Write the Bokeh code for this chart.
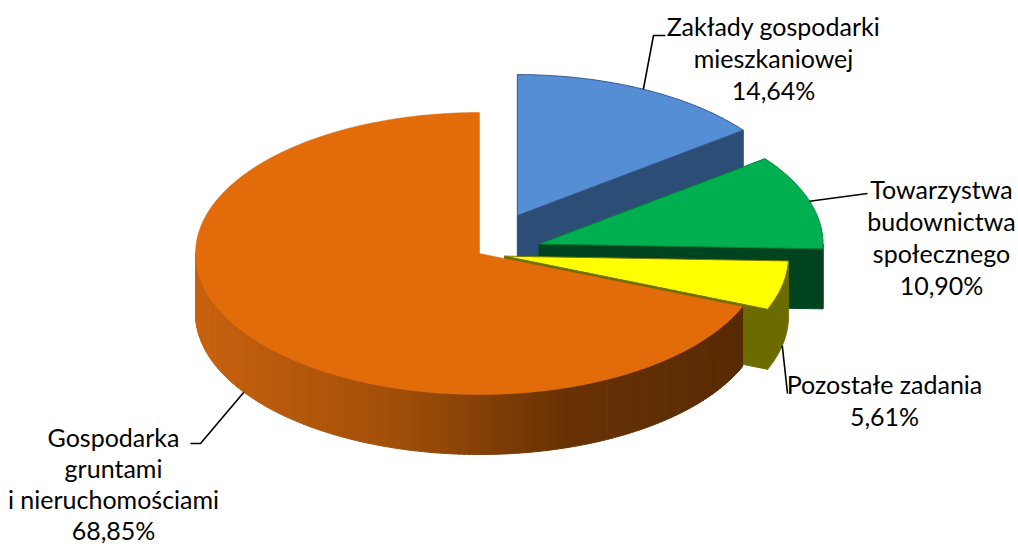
import numpy as np
from bokeh.plotting import figure
from bokeh.models import Range1d
from bokeh.embed import file_html
from bokeh.resources import INLINE
from bokeh.core.properties import value

# ---------------- data ----------------
categories = ["Zakłady gospodarki mieszkaniowej",
              "Towarzystwa budownictwa społecznego",
              "Pozostałe zadania",
              "Gospodarka gruntami i nieruchomościami"]
label_lines = [["Zakłady gospodarki", "mieszkaniowej"],
               ["Towarzystwa", "budownictwa", "społecznego"],
               ["Pozostałe zadania"],
               ["Gospodarka", "gruntami", "i nieruchomościami"]]
shares = [14.64, 10.90, 5.61, 68.85]
top_colors = ["#558ED5", "#00B050", "#FFFF00", "#E36C0A"]
side_colors = ["#2C4D75", "#00441F", "#6B6B00", None]
edge_colors = ["#34598A", "#00803A", "#7A7A00", None]

# ---------------- layout / style ----------------
W, H = 1018, 548
CX, CY = 479, 253          # pie centre on the top face (screen px)
RX, RY = 284, 141          # ellipse radii
DEPTH = 60                 # thickness
explode = [0.30, 0.22, 0.09, 0.0]
label_pos = [(773, 25), (941, 188), (884, 383), (113, 436)]
label_steps = [32, 32, 32, 31]
leader_elbows = [[(653, 35), (665, 35)], [(867, 193)], [(787, 393)], [(200, 443), (190, 443)]]
FONT_SIZE = "25px"
# gradient for the front wall of the big slice (x position -> rgb)
grad_x = [195, 400, 560, 745]
grad_rgb = [(200, 98, 15), (160, 78, 8), (105, 50, 5), (88, 42, 4)]

p = figure(width=W, height=H, output_backend="svg", toolbar_location=None,
           x_range=Range1d(0, W), y_range=Range1d(H, 0),
           min_border=0, outline_line_color=None)
p.axis.visible = False
p.grid.visible = False
p.background_fill_color = "white"
p.border_fill_color = "white"


def pt(cx, cy, th, down=0.0):
    r = np.radians(th)
    return cx + RX * np.sin(r), cy - RY * np.cos(r) + down


def arc(cx, cy, a0, a1, down=0.0, n=None):
    if n is None:
        n = max(int(abs(a1 - a0) / 0.5), 2)
    th = np.linspace(a0, a1, n)
    x, y = pt(cx, cy, th, down)
    return list(x), list(y)


def grad_color(x):
    c = [int(round(np.interp(x, grad_x, [g[k] for g in grad_rgb]))) for k in range(3)]
    return "#%02x%02x%02x" % tuple(c)


cum = np.concatenate([[0], np.cumsum(shares)]) * 3.6
for i in range(len(shares)):
    s, e = cum[i], cum[i + 1]
    m = (s + e) / 2
    ox = CX + explode[i] * RX * np.sin(np.radians(m))
    oy = CY - explode[i] * RY * np.cos(np.radians(m))
    xs, ys, fills, lines = [], [], [], []
    side = side_colors[i]
    # radial cut faces
    for ang, vis in ((e, np.sin(np.radians(e)) > 1e-6), (s, np.sin(np.radians(s)) < -1e-6)):
        if vis and side is not None:
            x1, y1 = pt(ox, oy, ang)
            xs.append([ox, x1, x1, ox])
            ys.append([oy, y1, y1 + DEPTH, oy + DEPTH])
            fills.append(side)
            lines.append(side)
    # outer wall (front half)
    a0, a1 = max(s, 90), min(e, 270)
    if a1 > a0:
        if side is not None:
            tx, ty = arc(ox, oy, a0, a1)
            bx, by = arc(ox, oy, a1, a0, DEPTH)
            xs.append(tx + bx)
            ys.append(ty + by)
            fills.append(side)
            lines.append(side)
        else:
            steps = np.arange(a0, a1, 1.0)
            steps = np.append(steps, a1)
            for k in range(len(steps) - 1):
                b0, b1 = steps[k], steps[k + 1]
                tx, ty = arc(ox, oy, b0, b1, n=3)
                bx, by = arc(ox, oy, b1, b0, DEPTH, n=3)
                xs.append(tx + bx)
                ys.append(ty + by)
                c = grad_color(np.mean(tx))
                fills.append(c)
                lines.append(c)
    if xs:
        p.patches(xs, ys, fill_color=fills, line_color=lines, line_width=1)
    # top face
    tx, ty = arc(ox, oy, s, e)
    edge = edge_colors[i]
    p.patch([ox] + tx, [oy] + ty, fill_color=top_colors[i],
            line_color=edge if edge else top_colors[i],
            line_width=1 if edge else 0.5)

# leader lines and labels
for i in range(len(shares)):
    s, e = cum[i], cum[i + 1]
    m = (s + e) / 2
    ox = CX + explode[i] * RX * np.sin(np.radians(m))
    oy = CY - explode[i] * RY * np.cos(np.radians(m))
    down = DEPTH if 90 < m < 270 else 0
    x0, y0 = pt(ox, oy, m, down)
    lx = [x0] + [q[0] for q in leader_elbows[i]]
    ly = [y0] + [q[1] for q in leader_elbows[i]]
    p.line(lx, ly, line_color="black", line_width=1.6)

    pct = f"{shares[i]:.2f}".replace(".", ",") + "%"
    texts = label_lines[i] + [pct]
    cx_l, cy_l = label_pos[i]
    p.text(x=[cx_l] * len(texts), y=[cy_l + k * label_steps[i] for k in range(len(texts))],
           text=texts, text_align="center", text_baseline="middle",
           text_font=value("Lato"), text_font_size=FONT_SIZE, text_color="black")

open("out.html", "w").write(file_html(p, INLINE))
